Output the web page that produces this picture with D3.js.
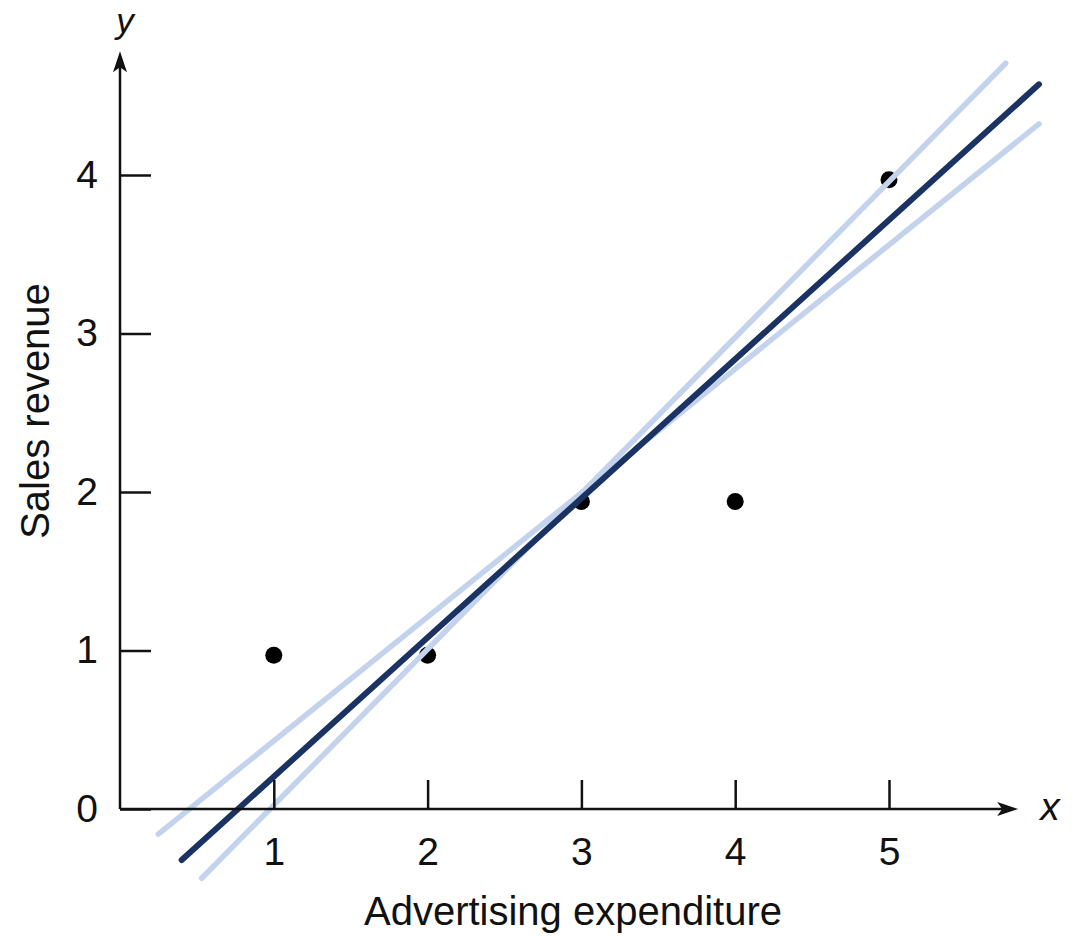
<!DOCTYPE html>
<html>
<head>
<meta charset="utf-8">
<script src="https://cdn.jsdelivr.net/npm/d3@7"></script>
<style>
  html, body { margin: 0; padding: 0; background: #fff; }
  svg { display: block; }
  text { font-family: "Liberation Sans", Arial, Helvetica, sans-serif; fill: #111; }
</style>
</head>
<body>
<svg id="chart" width="1077" height="936"></svg>
<script>
// Observations: advertising expenditure (x) vs sales revenue (y)
const adSpend = [1, 2, 3, 4, 5];
const revenue = [0.97, 0.97, 1.94, 1.94, 3.97];

// Candidate straight lines, given by their end points (data units)
const lineNames = ["steeper", "shallower", "fit"];
const lineX0 = [0.531, 0.249, 0.401];
const lineY0 = [-0.437, -0.158, -0.322];
const lineX1 = [5.759, 5.975, 5.975];
const lineY1 = [4.705, 4.322, 4.572];

const xTicks = [1, 2, 3, 4, 5];
const yTicks = [0, 1, 2, 3, 4];
const xAxisEnd = 5.84;
const yAxisEnd = 4.78;

const svg = d3.select("#chart");
const x = d3.scaleLinear().domain([0, 5]).range([120, 889]);
const y = d3.scaleLinear().domain([0, 4]).range([809, 175]);

const ink = "#111";
const fontSize = 39;

// Data points
svg.append("g").selectAll("circle")
  .data(adSpend.map((d, i) => [d, revenue[i]]))
  .join("circle")
  .attr("cx", d => x(d[0]))
  .attr("cy", d => y(d[1]))
  .attr("r", 8.5)
  .attr("fill", "#000");

// Lines: light alternatives first, then the dark fitted line on top
const lineColor = { steeper: "#c3d3ee", shallower: "#c3d3ee", fit: "#1b3362" };
const lineWidth = { steeper: 5.5, shallower: 5.5, fit: 6 };
svg.append("g").selectAll("line")
  .data(lineNames.map((n, i) => ({ n, x0: lineX0[i], y0: lineY0[i], x1: lineX1[i], y1: lineY1[i] })))
  .join("line")
  .attr("x1", d => x(d.x0)).attr("y1", d => y(d.y0))
  .attr("x2", d => x(d.x1)).attr("y2", d => y(d.y1))
  .attr("stroke", d => lineColor[d.n])
  .attr("stroke-width", d => lineWidth[d.n])
  .attr("stroke-linecap", "round");

// Axes with inward ticks
const yAxis = d3.axisLeft(y).tickValues(yTicks).tickSize(-31).tickSizeOuter(0).tickPadding(22).tickFormat(d3.format("d"));
const gy = svg.append("g").attr("transform", `translate(${x(0)},0)`).call(yAxis);
gy.select(".domain").remove();
gy.selectAll(".tick line").attr("stroke", ink).attr("stroke-width", 2.5);
gy.selectAll(".tick text").attr("font-size", fontSize).attr("fill", ink)
  .attr("font-family", "'Liberation Sans', Arial, sans-serif");

const xAxis = d3.axisBottom(x).tickValues(xTicks).tickSize(-29).tickSizeOuter(0).tickPadding(28).tickFormat(d3.format("d"));
const gx = svg.append("g").attr("transform", `translate(0,${y(0)})`).call(xAxis);
gx.select(".domain").remove();
gx.selectAll(".tick line").attr("stroke", ink).attr("stroke-width", 2.5);
gx.selectAll(".tick text").attr("font-size", fontSize).attr("fill", ink)
  .attr("font-family", "'Liberation Sans', Arial, sans-serif");

// Axis lines with arrowheads
const axes = svg.append("g");
axes.append("line")
  .attr("x1", x(0)).attr("y1", y(0)).attr("x2", x(xAxisEnd) - 12).attr("y2", y(0))
  .attr("stroke", ink).attr("stroke-width", 2.5);
axes.append("line")
  .attr("x1", x(0)).attr("y1", y(0)).attr("x2", x(0)).attr("y2", y(yAxisEnd) + 12)
  .attr("stroke", ink).attr("stroke-width", 2.5);
const xt = x(xAxisEnd), yt = y(yAxisEnd);
axes.append("path")
  .attr("d", `M${xt},${y(0)} L${xt - 21},${y(0) - 7} L${xt - 16},${y(0)} L${xt - 21},${y(0) + 7} Z`)
  .attr("fill", ink);
axes.append("path")
  .attr("d", `M${x(0)},${yt} L${x(0) - 7},${yt + 21} L${x(0)},${yt + 16} L${x(0) + 7},${yt + 21} Z`)
  .attr("fill", ink);

// Axis symbols
svg.append("text").attr("x", x(0) + 5).attr("y", 33)
  .attr("text-anchor", "middle").attr("font-style", "italic").attr("font-size", 35).text("y");
svg.append("text").attr("x", 1050).attr("y", 820)
  .attr("text-anchor", "middle").attr("font-style", "italic").attr("font-size", fontSize).text("x");

// Axis titles
svg.append("text").attr("x", 573).attr("y", 925)
  .attr("text-anchor", "middle").attr("font-size", 40).text("Advertising expenditure");
svg.append("text").attr("transform", "translate(49,411) rotate(-90)")
  .attr("text-anchor", "middle").attr("font-size", 40).text("Sales revenue");
</script>
</body>
</html>
